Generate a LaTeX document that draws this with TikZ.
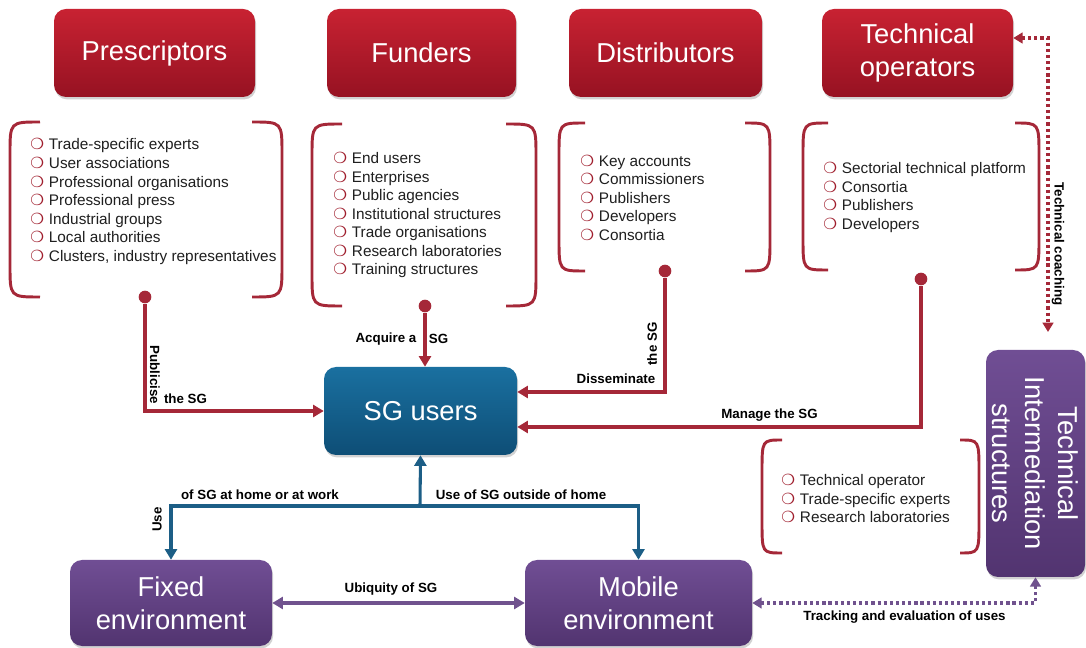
\documentclass[tikz,border=0pt]{standalone}
\usepackage{fontspec}
\setmainfont{Liberation Sans}
\newfontfamily\dingfont{DejaVu Sans}
\usetikzlibrary{arrows.meta,shadows,calc}

\definecolor{rtop}{RGB}{200,34,50}
\definecolor{rbot}{RGB}{150,18,34}
\definecolor{btop}{RGB}{26,112,160}
\definecolor{bbot}{RGB}{14,78,118}
\definecolor{ptop}{RGB}{112,78,148}
\definecolor{pbot}{RGB}{82,52,112}
\definecolor{lnred}{RGB}{165,40,56}
\definecolor{lnblue}{RGB}{28,94,134}
\definecolor{lnpurple}{RGB}{112,82,142}
\definecolor{bulred}{RGB}{160,30,45}

\newcommand\bul{\makebox[14pt][l]{\color{bulred}\fontsize{11.5}{11.5}\selectfont\dingfont ❍}}
\newcommand\lbrk[4]{\draw[brk] (#1,#3) .. controls (#2,#3) .. (#2,{#3+32}) -- (#2,{#4-32}) .. controls (#2,#4) .. (#1,#4);}

\begin{document}
\begin{tikzpicture}[x=0.75pt,y=-0.75pt,
  box/.style={rounded corners=9pt, inner sep=0pt, text=white, align=center,
    font=\fontsize{20.5}{24.75}\selectfont,
    drop shadow={opacity=0.35,shadow xshift=0.8pt,shadow yshift=-1.8pt}},
  redbox/.style={box, top color=rtop, bottom color=rbot, minimum height=66pt},
  bluebox/.style={box, top color=btop, bottom color=bbot},
  purplebox/.style={box, top color=ptop, bottom color=pbot},
  brk/.style={draw=lnred, line width=2.2pt},
  list/.style={anchor=west, align=left, inner sep=0pt, text=black!88,
    font=\fontsize{11.5}{13.9}\selectfont},
  dot/.style={circle, fill=lnred, inner sep=0pt, minimum size=9.5pt},
  rarrow/.style={draw=lnred, line width=2.3pt, -{Triangle[length=8pt,width=9pt]}},
  barrow/.style={draw=lnblue, line width=2.3pt},
  parrow/.style={draw=lnpurple, line width=2.3pt},
  twotip/.style={{Triangle[length=8pt,width=9pt]}-{Triangle[length=8pt,width=9pt]}},
  onetip/.style={-{Triangle[length=8pt,width=9pt]}},
  dottip/.style={{Triangle[length=7pt,width=8pt]}-{Triangle[length=7pt,width=8pt]}},
  rdot/.style={draw=lnred, line width=2.6pt, dash pattern=on 2.4pt off 2.2pt},
  pdot/.style={draw=lnpurple, line width=2.6pt, dash pattern=on 2.4pt off 2.2pt},
  lbl/.style={font=\bfseries\fontsize{10}{12}\selectfont, inner sep=0pt}]

\useasboundingbox (0,0) rectangle (1086,648);
\fill[white] (0,0) rectangle (1086,648);

% ---- top boxes
\node[redbox, minimum width=150.75pt] (pres) at (154.5,53) {Prescriptors};
\node[redbox, minimum width=141.75pt] (fund) at (421.5,53) {Funders};
\node[redbox, minimum width=144.75pt] (dist) at (665.5,53) {Distributors};
\node[redbox, minimum width=143.25pt] (techops) at (917.5,53) {Technical\\operators};

% ---- central and bottom boxes
\node[bluebox, minimum width=144.75pt, minimum height=66pt] (sg) at (420.5,411) {SG users};
\node[purplebox, minimum width=151.5pt, minimum height=64.5pt] (fixed) at (171,603) {Fixed\\environment};
\node[purplebox, minimum width=170.25pt, minimum height=64.5pt] (mobile) at (638.5,603) {Mobile\\environment};
\node[purplebox, minimum width=74.25pt, minimum height=170.25pt] (tis) at (1035.5,463.5) {};
\node[rotate=-90, text=white, align=center, inner sep=0pt,
  font=\fontsize{20.5}{24.75}\selectfont] (tistext) at (tis.center)
  {Technical\\Intermediation\\structures};

% ---- brackets
\lbrk{40}{10}{122}{297}  \lbrk{252}{282}{122}{297}
\lbrk{342}{312}{124}{306} \lbrk{506}{536}{124}{306}
\lbrk{585}{559}{123}{271} \lbrk{745}{770}{123}{271}
\lbrk{828}{803}{123}{270} \lbrk{1015}{1039}{123}{270}
\lbrk{782}{762}{440}{553} \lbrk{960}{979}{440}{553}

% ---- lists
\node[list] (presl) at (30,201.5) {\bul Trade-specific experts\\\bul User associations\\\bul Professional organisations\\\bul Professional press\\\bul Industrial groups\\\bul Local authorities\\\bul Clusters, industry representatives};
\node[list] (fundl) at (333,215) {\bul End users\\\bul Enterprises\\\bul Public agencies\\\bul Institutional structures\\\bul Trade organisations\\\bul Research laboratories\\\bul Training structures};
\node[list] (distl) at (580,197.5) {\bul Key accounts\\\bul Commissioners\\\bul Publishers\\\bul Developers\\\bul Consortia};
\node[list] (techl) at (823,197.5) {\bul Sectorial technical platform\\\bul Consortia\\\bul Publishers\\\bul Developers};
\node[list] (tisl) at (781,498.5) {\bul Technical operator\\\bul Trade-specific experts\\\bul Research laboratories};

% ---- dots
\node[dot] (pd) at (145,297) {};
\node[dot] (fd) at (425,306) {};
\node[dot] (dd) at (665,271) {};
\node[dot] (td) at (921,279) {};

% ---- red connectors
\draw[rarrow] (pd) |- (sg.west);
\draw[rarrow] (fd) -- (fd |- sg.north);
\draw[rarrow] (dd) |- (sg.east |- 0,392);
\draw[rarrow] (td) |- (sg.east |- 0,427);

% ---- blue connectors
\coordinate (jn) at (420,506);
\draw[barrow, twotip] (fixed.north) -- (fixed.north |- jn) -- (mobile.north |- jn) -- (mobile.north);
\draw[barrow, onetip] (jn) -- (sg.south);

% ---- purple connectors
\draw[parrow, twotip] (fixed.east) -- (mobile.west);
\draw[pdot, dottip] (mobile.east) -| (tis.south);
\coordinate (tce) at (1048,332);
\draw[rdot, dottip] (techops.east |- 0,38) -| (tce);

% ---- labels
\node[lbl, rotate=-90] (lpub) at (155,375) {Publicise};
\node[lbl] (lpub2) at (185.5,399) {the SG};
\node[lbl] (lacq) at (386,339) {Acquire a};
\node[lbl] (lacq2) at (438.5,339) {SG};
\node[lbl, rotate=90] (ldis2) at (652,344) {the SG};
\node[lbl] (ldis) at (616,379) {Disseminate};
\node[lbl] (lman) at (769.5,415) {Manage the SG};
\node[lbl] (lhome) at (260,495) {of SG at home or at work};
\node[lbl, rotate=90] (luse) at (157,519.5) {Use};
\node[lbl] (lout) at (521,495) {Use of SG outside of home};
\node[lbl] (lubi) at (391,589) {Ubiquity of SG};
\node[lbl] (ltrack) at (904.5,617) {Tracking and evaluation of uses};
\node[lbl, rotate=-90] (lcoach) at (1058,244) {Technical coaching};
\end{tikzpicture}
\end{document}
